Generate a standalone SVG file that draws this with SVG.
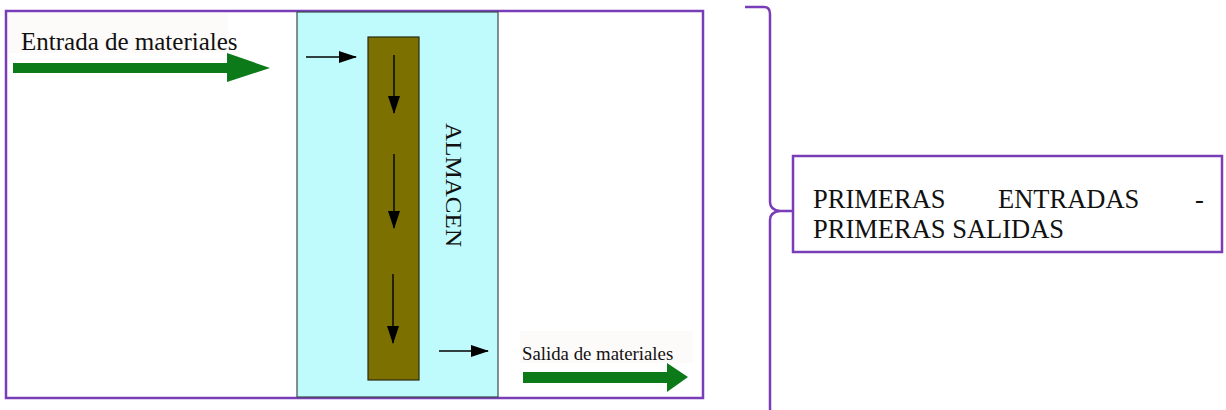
<svg xmlns="http://www.w3.org/2000/svg" width="1226" height="410" viewBox="0 0 1226 410">
<style>
.purple{fill:none;stroke:#7a3db8;stroke-width:2.5}
.blk{stroke:#000;stroke-width:1.4;fill:none;marker-end:url(#ah)}
text{font-family:'Liberation Serif','Times New Roman',serif;fill:#111}
.green{fill:#0c7a18}
</style>
<defs>
<marker id="ah" markerUnits="userSpaceOnUse" markerWidth="18" markerHeight="12" viewBox="0 0 18 12" refX="17" refY="6" orient="auto">
<path d="M0,0 L18,6 L0,12 z" fill="#000"/>
</marker>
</defs>
<rect width="1226" height="410" fill="#fff"/>
<g id="frame">
<rect x="6" y="11" width="697" height="387" class="purple" stroke-width="2"/>
</g>
<g id="entrada">
<rect x="8" y="13" width="220" height="40" fill="#fdfafa"/>
<text x="21" y="50" font-size="25">Entrada de materiales</text>
<path class="green" d="M13,63 H227 V53 L270,68 L227,82 V73 H13 z"/>
</g>
<g id="almacen">
<rect x="297" y="12" width="201" height="385" fill="#bffbfd" stroke="#3a4a4a" stroke-width="1.2"/>
<rect x="368" y="37" width="51" height="343" fill="#7b7000" stroke="#2a2a10" stroke-width="1.2"/>
<text transform="translate(446,185) rotate(90)" text-anchor="middle" font-size="24" textLength="124" lengthAdjust="spacingAndGlyphs">ALMACEN</text>
</g>
<g id="salida">
<rect x="520" y="331" width="173" height="32" fill="#fdfafa"/>
<text x="522" y="360" font-size="18.8">Salida de materiales</text>
<path class="green" d="M523,372 H667 V363 L688,377 L667,392 V383 H523 z"/>
</g>
<g id="connectors">
<line x1="306" y1="57" x2="356" y2="57" class="blk"/>
<line x1="394" y1="55" x2="394" y2="113" class="blk"/>
<line x1="394" y1="154" x2="394" y2="228" class="blk"/>
<line x1="393" y1="274" x2="393" y2="343" class="blk"/>
<line x1="439" y1="351" x2="488" y2="351" class="blk"/>
<path class="purple" d="M745,7 H764 Q770,7 770,14 V202 Q770,210 780,211 H793 M780,211 Q770,212 770,220 V410"/>
</g>
<g id="fifo">
<rect x="793" y="156" width="429" height="96" fill="#fff" stroke="#7a3db8" stroke-width="2.5"/>
<text x="813" y="208" font-size="26.5">PRIMERAS</text>
<text x="998" y="208" font-size="26.5">ENTRADAS</text>
<text x="1195" y="208" font-size="26.5">-</text>
<text x="813" y="238" font-size="26.5">PRIMERAS SALIDAS</text>
</g>
</svg>
